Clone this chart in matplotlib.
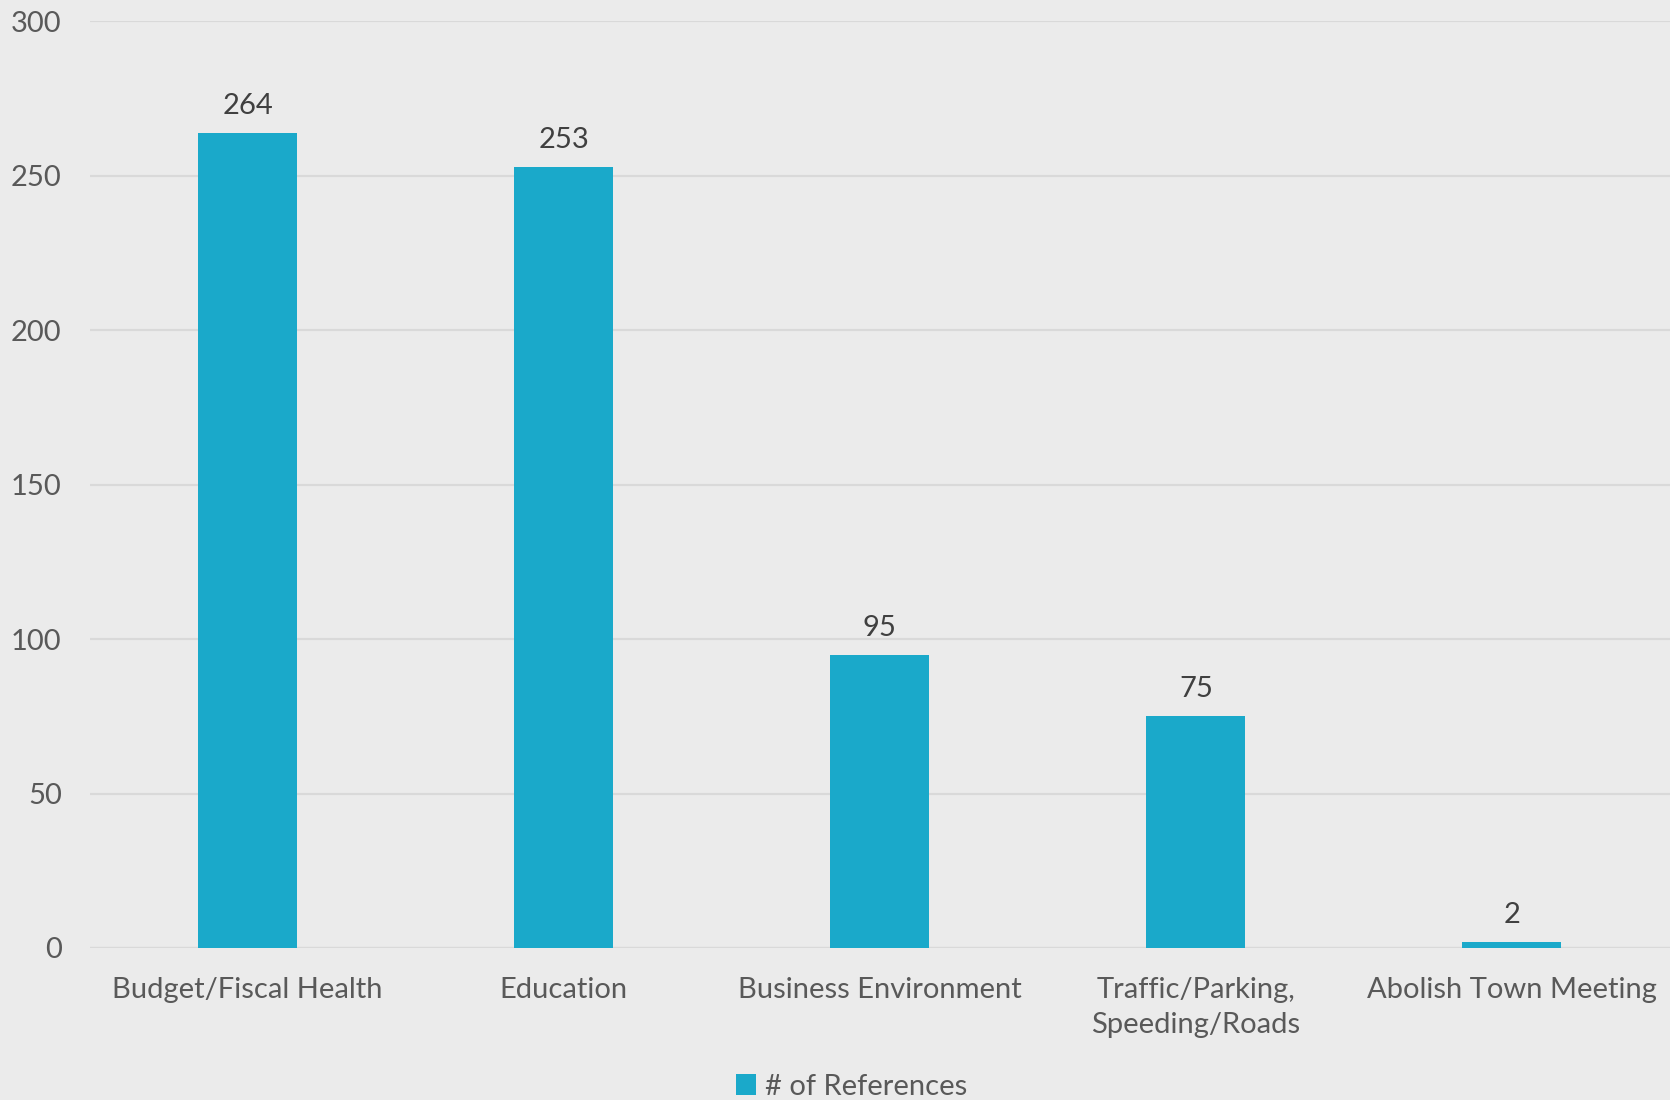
import matplotlib
matplotlib.use("Agg")
import matplotlib.pyplot as plt
from matplotlib.patches import Patch

categories = ["Budget/Fiscal Health", "Education", "Business Environment",
              "Traffic/Parking,\nSpeeding/Roads", "Abolish Town Meeting"]
values = [264, 253, 95, 75, 2]
yticks = [0, 50, 100, 150, 200, 250, 300]
series_name = "# of References"

plt.rcParams['font.family'] = ['Lato', 'DejaVu Sans']
bg = "#EBEBEB"
bar_color = "#1AA9CA"

fig = plt.figure(figsize=(16.7, 11), dpi=100, facecolor=bg)
ax = fig.add_axes([0.0536, 0.1382, 0.9464, 0.8423], facecolor=bg)

x = list(range(len(categories)))
bars = ax.bar(x, values, width=0.313, color=bar_color, zorder=3)
for xi, v in zip(x, values):
    ax.annotate(str(v), (xi, v), xytext=(0, 10), textcoords="offset points",
                ha="center", va="bottom", fontsize=21, color="#404040", zorder=4)

ax.set_xlim(-0.5, len(categories) - 0.5)
ax.set_ylim(0, 300)
ax.set_yticks(yticks)
ax.set_yticklabels([str(t) for t in yticks])
ax.set_xticks(x)
ax.set_xticklabels(categories, linespacing=1.4)
ax.tick_params(axis='y', length=0, pad=20, labelsize=21, labelcolor="#595959")
ax.tick_params(axis='x', length=0, pad=21, labelsize=21, labelcolor="#595959")
ax.grid(axis='y', color="#D9D9D9", linewidth=1.6, zorder=0)
for s in ax.spines.values():
    s.set_visible(False)
ax.axhline(0, color="#D9D9D9", linewidth=1.6, zorder=2)

handle = Patch(facecolor=bar_color, edgecolor='none')
fig.legend([handle], [series_name], loc="center", bbox_to_anchor=(0.51, 0.012),
           frameon=False, fontsize=21, labelcolor="#595959",
           handlelength=0.7, handleheight=0.7, handletextpad=0.3)

fig.savefig("out.png", dpi=100, facecolor=bg)
